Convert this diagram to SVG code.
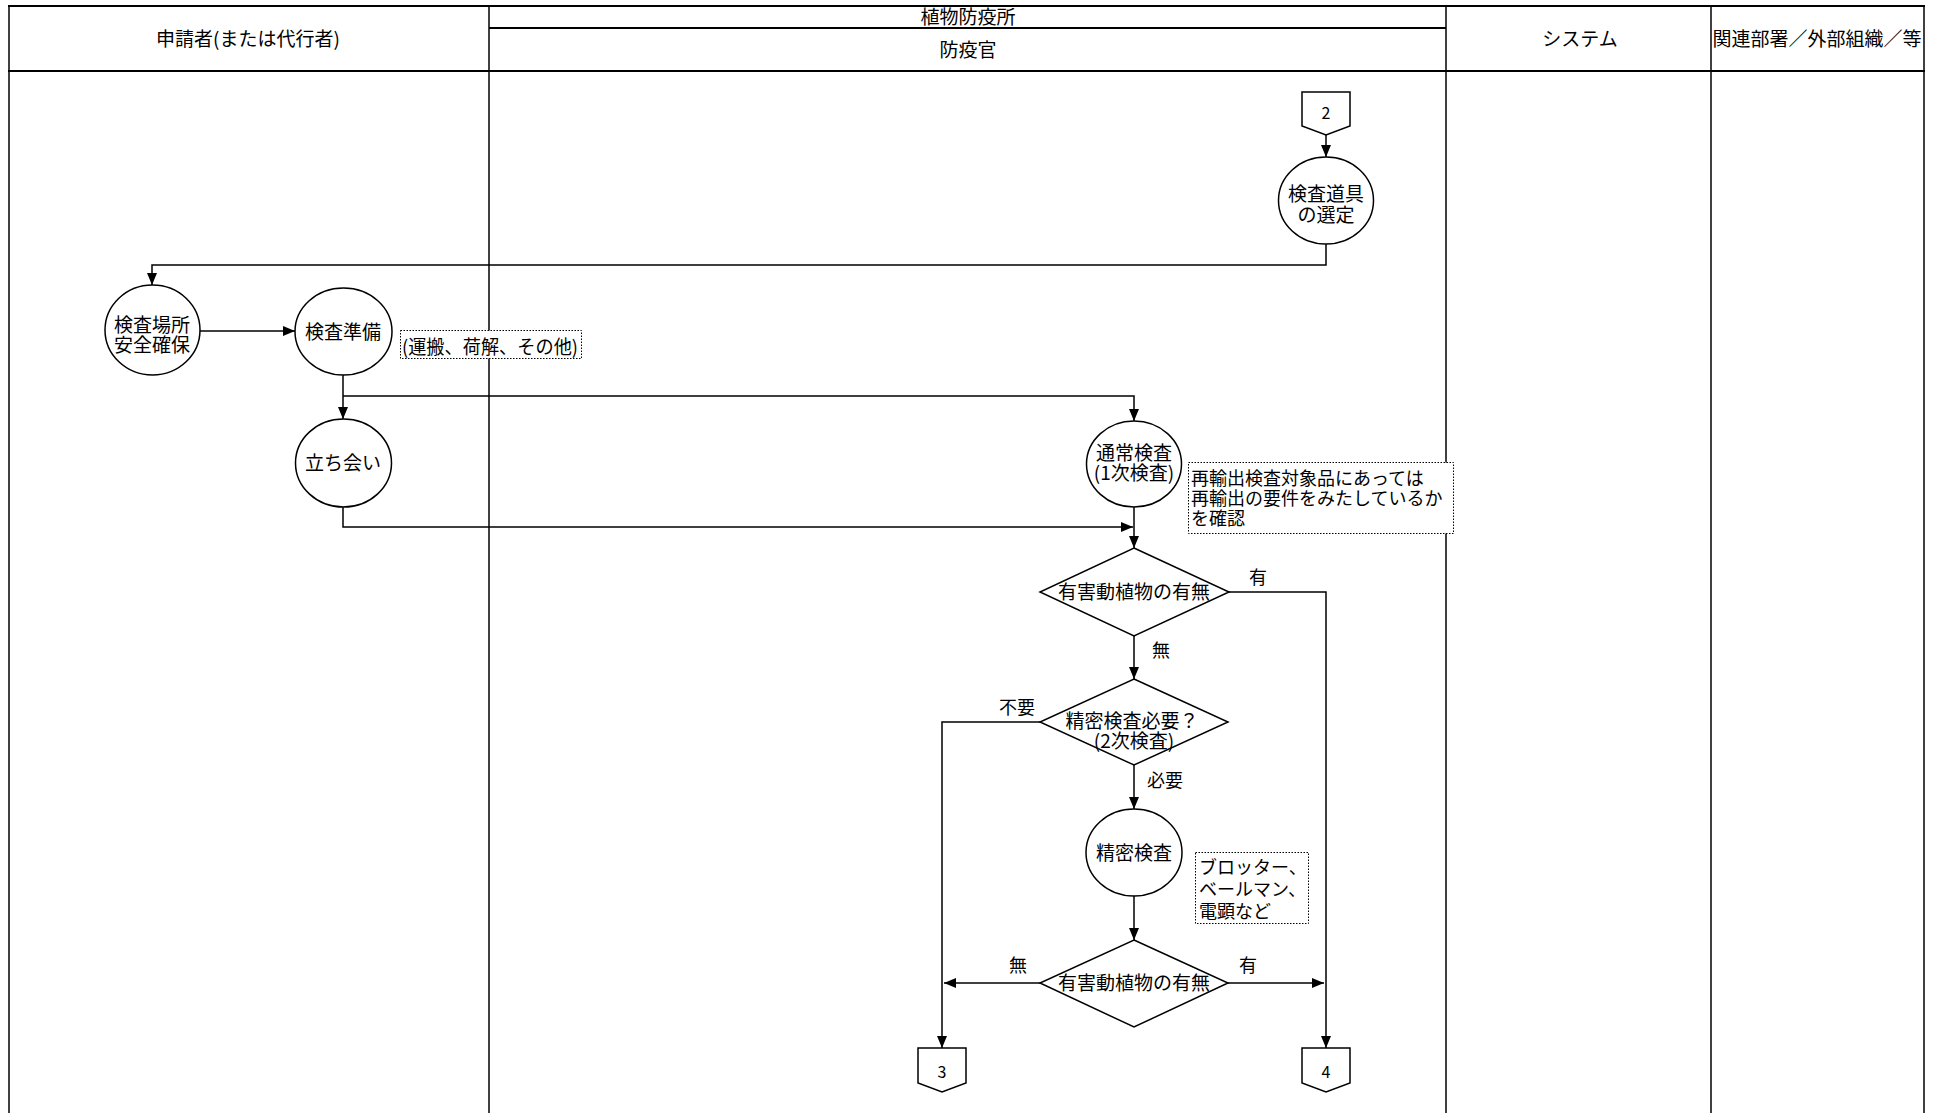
<svg xmlns="http://www.w3.org/2000/svg" width="1935" height="1113" viewBox="0 0 1935 1113">
<defs>
<marker id="arr" markerWidth="12" markerHeight="10" refX="12" refY="5" orient="auto" markerUnits="userSpaceOnUse">
<path d="M0,0 L12,5 L0,10 z" fill="#000"/>
</marker>
<style>
text{font-family:"Noto Sans CJK JP","Noto Sans",sans-serif;fill:#000;font-size:19px;text-anchor:middle}
.lane{stroke:#000;stroke-width:1.5;fill:none}
.hdr{stroke:#000;stroke-width:2.2;fill:none}
.shape{fill:#fff;stroke:#000;stroke-width:1.5}
.note{fill:#fff;stroke:#000;stroke-width:1;stroke-dasharray:1.5,1.5}
.conn{fill:none;stroke:#000;stroke-width:1.5}
.arr{marker-end:url(#arr)}
.lbl{font-size:18px}
.num{font-size:16px}
.st{text-anchor:start}
.nt{font-size:18px;text-anchor:start}
</style>
</defs>
<rect width="1935" height="1113" fill="#fff"/>
<g id="lanes">
<line class="lane" x1="9" y1="6" x2="9" y2="1113"/>
<line class="lane" x1="489" y1="6" x2="489" y2="1113"/>
<line class="lane" x1="1446" y1="6" x2="1446" y2="1113"/>
<line class="lane" x1="1711" y1="6" x2="1711" y2="1113"/>
<line class="lane" x1="1924" y1="6" x2="1924" y2="1113"/>
<line class="hdr" x1="8" y1="6" x2="1925" y2="6"/>
<line class="hdr" x1="489" y1="28" x2="1446" y2="28"/>
<line class="hdr" x1="8" y1="71" x2="1925" y2="71"/>
<text x="248" y="46">申請者(または代行者)</text>
<text x="968" y="24">植物防疫所</text>
<text x="968" y="57">防疫官</text>
<text x="1580" y="46">システム</text>
<text x="1817" y="46">関連部署／外部組織／等</text>
</g>
<g id="connectors">
<path class="conn arr" d="M1326,135 L1326,157"/>
<path class="conn arr" d="M1326,244 L1326,265 L152,265 L152,285"/>
<path class="conn arr" d="M200,331 L295,331"/>
<path class="conn arr" d="M343,375 L343,419"/>
<path class="conn arr" d="M343,396 L1134,396 L1134,421"/>
<path class="conn arr" d="M343,507 L343,527 L1133,527"/>
<path class="conn arr" d="M1134,507 L1134,548"/>
<path class="conn arr" d="M1134,636 L1134,679"/>
<path class="conn arr" d="M1229,592 L1326,592 L1326,1048"/>
<path class="conn arr" d="M1040,722 L942,722 L942,1048"/>
<path class="conn arr" d="M1134,765 L1134,809"/>
<path class="conn arr" d="M1134,896 L1134,940"/>
<path class="conn arr" d="M1040,983 L944,983"/>
<path class="conn arr" d="M1228,983 L1324,983"/>
<text class="lbl" x="1258" y="584">有</text>
<text class="lbl" x="1161" y="657">無</text>
<text class="lbl" x="1017" y="714">不要</text>
<text class="lbl" x="1165" y="787">必要</text>
<text class="lbl" x="1018" y="972">無</text>
<text class="lbl" x="1248" y="972">有</text>
</g>
<g id="off2">
<path class="shape" d="M1302,92 L1350,92 L1350,126 L1326,135 L1302,126 z"/>
<text class="num" x="1326" y="119">2</text>
</g>
<g id="tool">
<ellipse class="shape" cx="1326" cy="200.5" rx="47.5" ry="43.5"/>
<text x="1326" y="201">検査道具</text>
<text x="1326" y="222">の選定</text>
</g>
<g id="safety">
<ellipse class="shape" cx="152.5" cy="330" rx="47.5" ry="45"/>
<text x="152" y="332">検査場所</text>
<text x="152" y="352">安全確保</text>
</g>
<g id="prep">
<ellipse class="shape" cx="343.5" cy="331.5" rx="48.5" ry="43.5"/>
<text x="343" y="339">検査準備</text>
</g>
<g id="note-prep">
<rect class="note" x="400.5" y="330.5" width="181" height="28"/>
<text class="st" x="402" y="354" textLength="176" lengthAdjust="spacingAndGlyphs">(運搬、荷解、その他)</text>
</g>
<g id="attend">
<ellipse class="shape" cx="343.5" cy="463" rx="48" ry="44"/>
<text x="343" y="470">立ち会い</text>
</g>
<g id="normal">
<ellipse class="shape" cx="1134" cy="464" rx="47.5" ry="43"/>
<text x="1134" y="460">通常検査</text>
<text x="1134" y="480">(1次検査)</text>
</g>
<g id="note-reexport">
<rect class="note" x="1188.5" y="462.5" width="265" height="71"/>
<text class="nt" x="1191" y="485">再輸出検査対象品にあっては</text>
<text class="nt" x="1191" y="505">再輸出の要件をみたしているか</text>
<text class="nt" x="1191" y="525">を確認</text>
</g>
<g id="pest1">
<path class="shape" d="M1134,548 L1229,592 L1134,636 L1040,592 z"/>
<text x="1134" y="599">有害動植物の有無</text>
</g>
<g id="need">
<path class="shape" d="M1134,679 L1228,722 L1134,765 L1040,722 z"/>
<text x="1132" y="728">精密検査必要？</text>
<text x="1134" y="748">(2次検査)</text>
</g>
<g id="detail">
<ellipse class="shape" cx="1134" cy="852.5" rx="48" ry="43.5"/>
<text x="1134" y="860">精密検査</text>
</g>
<g id="note-detail">
<rect class="note" x="1195.5" y="852.5" width="113" height="71"/>
<text class="nt" x="1199" y="874">ブロッター、</text>
<text class="nt" x="1199" y="896">ベールマン、</text>
<text class="nt" x="1199" y="918">電顕など</text>
</g>
<g id="pest2">
<path class="shape" d="M1134,940 L1228,983 L1134,1027 L1040,983 z"/>
<text x="1134" y="990">有害動植物の有無</text>
</g>
<g id="off3">
<path class="shape" d="M918,1048 L966,1048 L966,1083 L942,1092 L918,1083 z"/>
<text class="num" x="942" y="1078">3</text>
</g>
<g id="off4">
<path class="shape" d="M1302,1048 L1350,1048 L1350,1083 L1326,1092 L1302,1083 z"/>
<text class="num" x="1326" y="1078">4</text>
</g>
</svg>
